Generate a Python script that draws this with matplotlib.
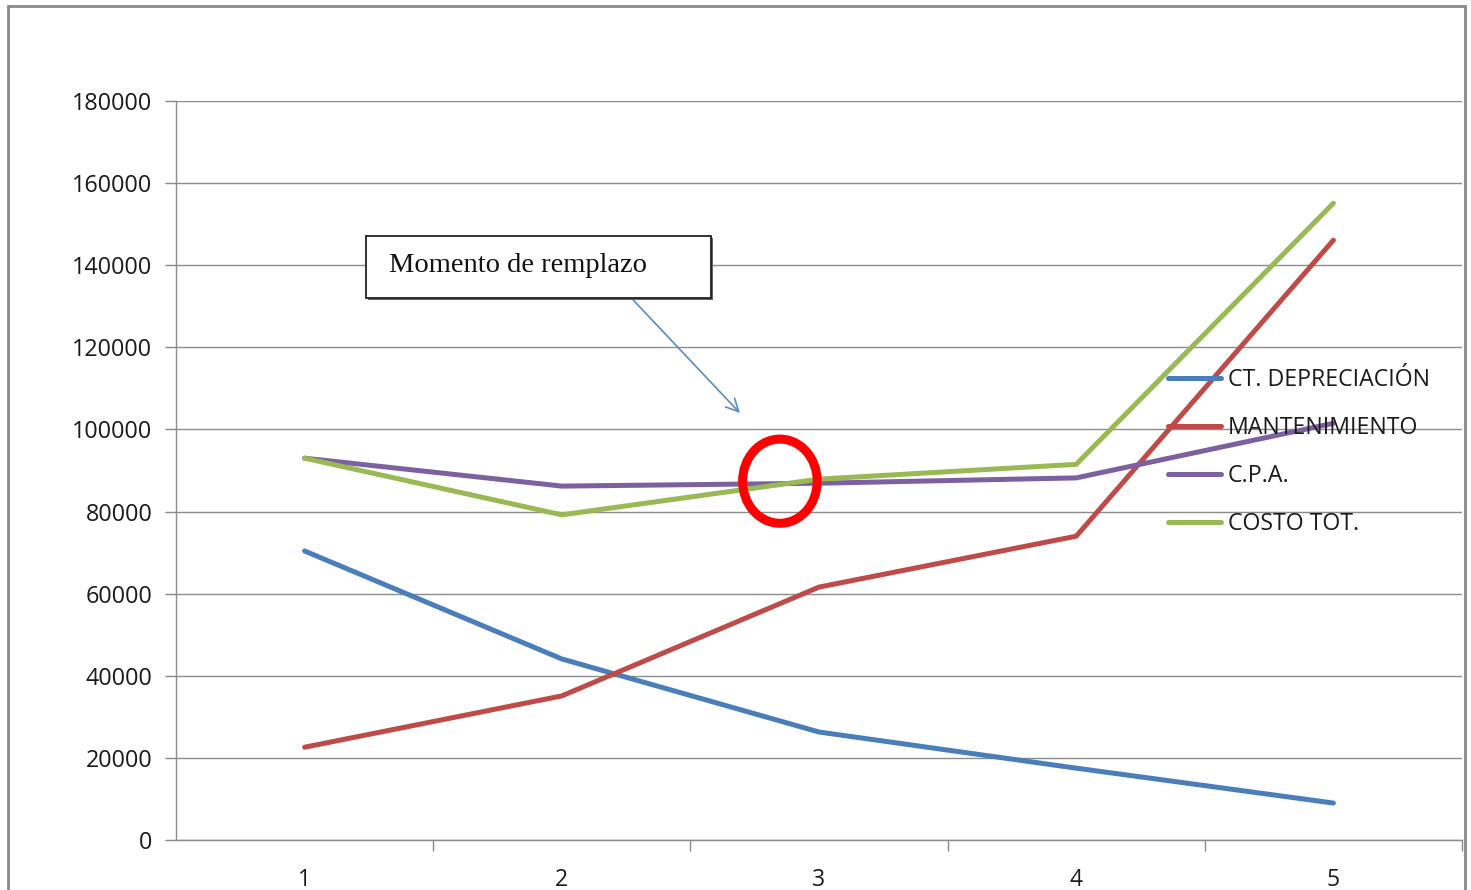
import matplotlib.pyplot as plt
from matplotlib.patches import Ellipse, Rectangle

# años de uso del equipo y costos anuales
years = [1, 2, 3, 4, 5]
depreciacion = [70400, 44100, 26300, 17500, 9000]
mantenimiento = [22600, 35100, 61600, 74000, 146100]
cpa = [93000, 86200, 86900, 88200, 101500]
costo_tot = [93000, 79200, 87900, 91500, 155100]

series = [
    ("CT. DEPRECIACIÓN", depreciacion, "#4A7EBB"),
    ("MANTENIMIENTO", mantenimiento, "#BE4B48"),
    ("C.P.A.", cpa, "#7D60A0"),
    ("COSTO TOT.", costo_tot, "#98B954"),
]

plt.rcParams["font.family"] = ["Open Sans", "DejaVu Sans"]

W, H = 1471, 890
fig = plt.figure(figsize=(W / 100, H / 100), dpi=100)
ax = fig.add_axes([176 / W, 1 - 840 / H, (1462 - 176) / W, (840 - 101) / H])

for name, vals, color in series:
    ax.plot(years, vals, color=color, lw=3.6, label=name,
            solid_capstyle="round", solid_joinstyle="round", zorder=3)

ax.set_xlim(0.5, 5.5)
ax.set_ylim(0, 180000)
ax.set_yticks(range(0, 180001, 20000))
ax.set_xticks(years)
ax.set_xticks([1.5, 2.5, 3.5, 4.5, 5.5], minor=True)
ax.tick_params(axis="x", which="major", length=0, labelsize=16.5, pad=20,
               labelcolor="#1a1a1a")
ax.tick_params(axis="x", which="minor", length=8, color="#888888", width=1)
ax.tick_params(axis="y", length=8, color="#888888", width=1, labelsize=16.8,
               pad=9, labelcolor="#1a1a1a")
ax.grid(axis="y", color="#8c8c8c", lw=1)
for side in ["top", "right"]:
    ax.spines[side].set_visible(False)
for side in ["left", "bottom"]:
    ax.spines[side].set_color("#8c8c8c")
    ax.spines[side].set_linewidth(1)
ax.set_axisbelow(True)

# marca del momento de remplazo
ax.add_patch(Ellipse((2.848, 87400), 0.29, 20500, fill=False,
                     edgecolor="#FF0000", lw=6.5, zorder=4))

ax.annotate("", xy=(2.70, 103500), xytext=(2.26, 132700),
            arrowprops=dict(arrowstyle="->,head_length=0.9,head_width=0.45",
                            color="#5B8CC0", lw=1.2), zorder=5)

fig.text(389 / W, 1 - 266 / H, "Momento de remplazo", family="Liberation Serif",
         fontsize=20.5, va="center", ha="left", color="#111111", zorder=6)
fig.patches.append(Rectangle((368 / W, 1 - 300 / H), 345 / W, 62 / H,
                             transform=fig.transFigure, facecolor="#666666",
                             edgecolor="none", zorder=4))
fig.patches.append(Rectangle((366 / W, 1 - 298 / H), 345 / W, 62 / H,
                             transform=fig.transFigure, facecolor="white",
                             edgecolor="#222222", lw=1.3, zorder=5))

leg = fig.legend(loc="center left", bbox_to_anchor=(1168 / W, 1 - 452 / H),
                 frameon=False, fontsize=16.7, handlelength=2.3,
                 handletextpad=0.28, labelspacing=1.03, borderpad=0,
                 borderaxespad=0)
for t in leg.get_texts():
    t.set_color("#1a1a1a")

# marco exterior del gráfico
fig.patches.append(Rectangle((8 / W, -0.05), (1465 - 8) / W, 1 - 6 / H + 0.05,
                             transform=fig.transFigure, fill=False,
                             edgecolor="#8a8a8a", lw=2))

fig.savefig("out.png", dpi=100)
